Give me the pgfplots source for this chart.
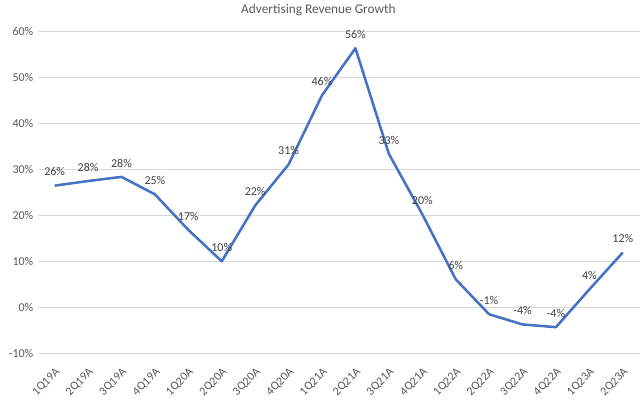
\documentclass[border=0pt]{standalone}
\usepackage{pgfplots}
\pgfplotsset{compat=1.18}
\usepackage{fontspec}
\setmainfont{Carlito}
\definecolor{lineblue}{HTML}{4472C4}
\definecolor{gridgray}{HTML}{D9D9D9}
\definecolor{txt}{HTML}{595959}
\definecolor{lbl}{HTML}{404040}
\begin{document}
\begin{tikzpicture}
\begin{axis}[
  at={(28.5pt,36pt)}, anchor=south west,
  scale only axis, width=451.5pt, height=242.25pt,
  xmin=-0.5, xmax=17.5, ymin=-10, ymax=60,
  axis line style={draw=none},
  ymajorgrids, grid style={gridgray, line width=0.75pt},
  tick style={draw=none},
  ytick={-10,0,10,20,30,40,50,60},
  yticklabels={-10\%,0\%,10\%,20\%,30\%,40\%,50\%,60\%},
  xtick={0,...,17},
  xticklabels={1Q19A,2Q19A,3Q19A,4Q19A,1Q20A,2Q20A,3Q20A,4Q20A,1Q21A,2Q21A,3Q21A,4Q21A,1Q22A,2Q22A,3Q22A,4Q22A,1Q23A,2Q23A},
  yticklabel style={font=\fontsize{9}{11}\selectfont, text=txt},
  xticklabel style={font=\fontsize{9}{11}\selectfont, text=txt, yshift=-5pt, rotate=45, anchor=north east},
  clip=false,
]
\addplot[lineblue, line width=1.9pt, line join=round,
  point meta=explicit symbolic,
  nodes near coords={\pgfplotspointmeta\%},
  nodes near coords style={font=\fontsize{9}{11}\selectfont, text=lbl, anchor=south, yshift=3pt},
] table[meta=l] {
x y l
0 26.5 26
1 27.5 28
2 28.4 28
3 24.6 25
4 16.9 17
5 10.1 10
6 22.2 22
7 31.1 31
8 46.1 46
9 56.3 56
10 33.4 33
11 20.3 20
12 6.2 6
13 -1.4 -1
14 -3.6 -4
15 -4.2 -4
16 4.0 4
17 12.0 12
};
\end{axis}
\node[font=\fontsize{10}{12}\selectfont, text=txt] at (239pt,294pt) {Advertising Revenue Growth};
\useasboundingbox (0,0) rectangle (480pt,300pt);
\end{tikzpicture}
\end{document}
